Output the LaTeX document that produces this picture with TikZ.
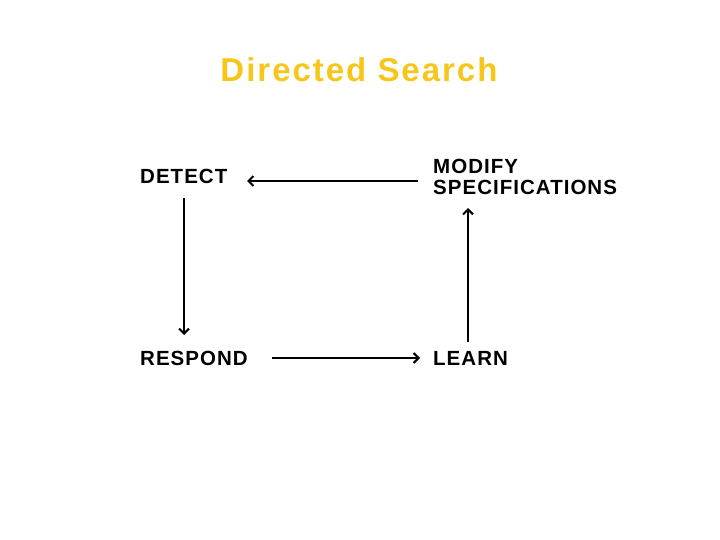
\documentclass[tikz,border=0pt]{standalone}
\usepackage{fontspec}
\setmainfont{Liberation Sans}
\newfontfamily\lblfont[LetterSpace=5]{Liberation Sans Bold}
\newfontfamily\ttlfont[LetterSpace=6]{Liberation Sans Bold}
\usetikzlibrary{arrows.meta}
\definecolor{gold}{RGB}{246,199,26}
\begin{document}
\begin{tikzpicture}[x=1pt,y=-1pt,
  lbl/.style={font=\lblfont\fontsize{20.5}{20.5}\selectfont, anchor=base west, inner sep=0pt, align=left},
  conn/.style={line width=2pt, -{Straight Barb[length=5pt,width=10pt,line width=2pt]}}]
\useasboundingbox (0,0) rectangle (720,540);
\node[font=\ttlfont\fontsize{33}{35}\selectfont, text=gold, anchor=base, inner sep=0pt] (title) at (359,82) {Directed Search};
\node[lbl] (detect) at (140,184) {DETECT};
\node[lbl, anchor=north west] (modify) at (433,159) {MODIFY\\SPECIFICATIONS};
\node[lbl] (respond) at (140,365) {RESPOND};
\node[lbl] (learn) at (433,365) {LEARN};
\coordinate (a1) at (418,181); \coordinate (a2) at (247,181);
\coordinate (b1) at (184,198); \coordinate (b2) at (184,335);
\coordinate (c1) at (272,358); \coordinate (c2) at (420,358);
\coordinate (d1) at (468,342); \coordinate (d2) at (468,208);
\draw[conn] (a1) -- (a2);
\draw[conn] (b1) -- (b2);
\draw[conn] (c1) -- (c2);
\draw[conn] (d1) -- (d2);
\end{tikzpicture}
\end{document}
